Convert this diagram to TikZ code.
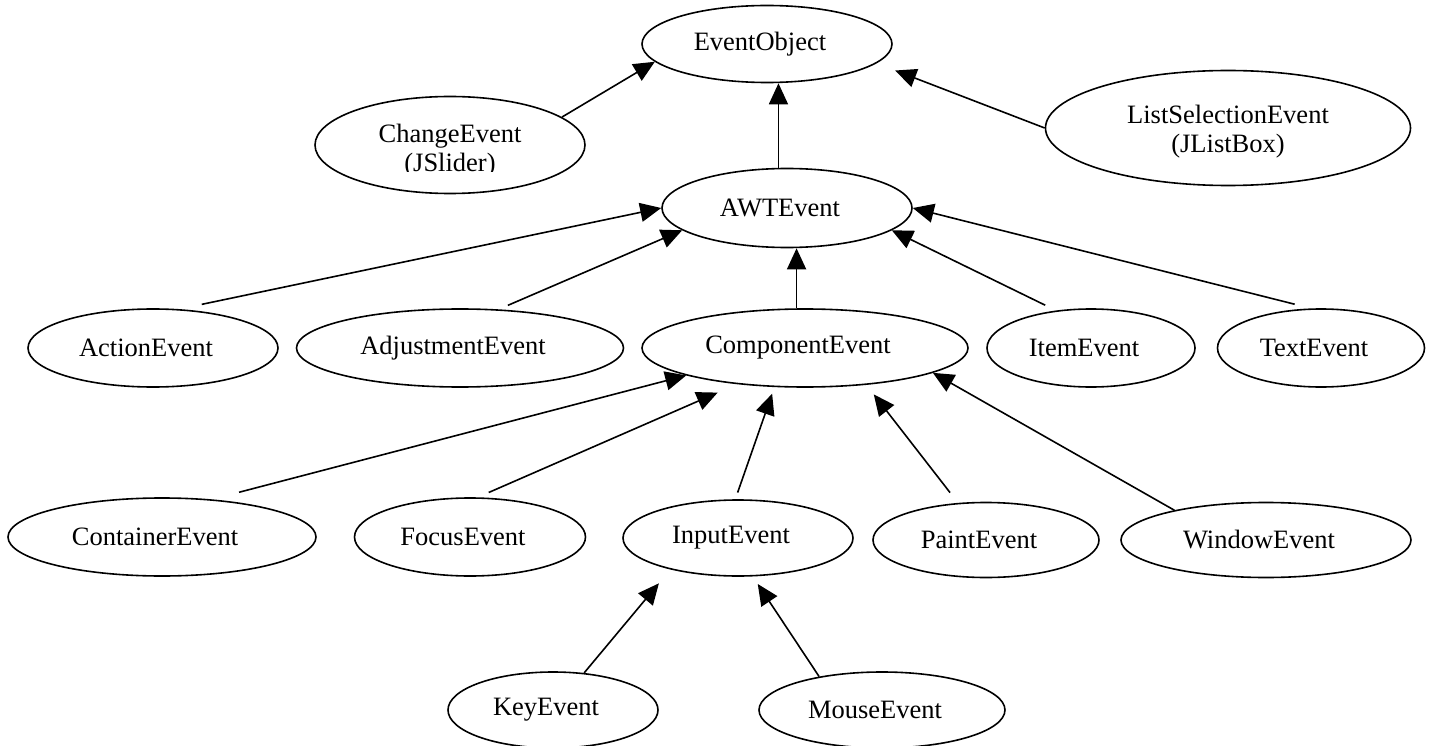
\documentclass[tikz,border=0pt]{standalone}
\usepackage{fontspec}
\setmainfont{Liberation Serif}
\usetikzlibrary{shapes.geometric,arrows.meta}

\begin{document}
\begin{tikzpicture}[x=1pt,y=-1pt,
    event/.style={draw,ellipse,line width=1.6pt,inner sep=0pt,align=center,
        font=\fontsize{26.5}{29}\selectfont},
    offset/.style={execute at end node={\rule{14pt}{0pt}}},
    inherit/.style={-{Triangle[length=21pt,width=19pt]},line width=1.6pt}]
    \useasboundingbox (0,0) rectangle (1435,746);

    % class ellipses: name/x/y/width/height/label
    \foreach \name/\x/\y/\w/\h/\txt in {
        evobj/767/44/250/77/EventObject,
        awt/787/208/250/79/AWTEvent,
        action/153/348/250/78/ActionEvent,
        adjust/460/348/327/78/AdjustmentEvent,
        comp/805/348/326/78/ComponentEvent,
        item/1091/348/208/78/ItemEvent,
        textev/1321/348/207/78/TextEvent,
        container/162/537/308/78/ContainerEvent,
        focus/470/537/231/78/FocusEvent,
        input/738/538/230/76/InputEvent,
        paint/986/540/226/75/PaintEvent,
        window/1266/540/290/75/WindowEvent,
        key/553/710/210/76/KeyEvent,
        mouse/882/710/246/76/MouseEvent}
    {
        \node[event,offset,minimum width=\w pt,minimum height=\h pt] (\name) at (\x,\y) {\txt};
    }
    \node[event,minimum width=270pt,minimum height=97pt] (change) at (450,145)
        {\rule{0pt}{30pt}ChangeEvent\\(JSlider)};
    \node[event,minimum width=365pt,minimum height=115pt] (listsel) at (1228,128)
        {\rule{0pt}{25pt}ListSelectionEvent\\(JListBox)};
    % cut-off second line of ChangeEvent
    \fill[white] (398,172.5) rectangle (502,181);

    % inheritance arrows: from/anchor/to/anchor/gap at start/gap at end
    \foreach \from/\fa/\to/\ta/\sa/\sb in {
        change/14/evobj/189/0/0,
        listsel/180/evobj/350/0/20,
        action/56/awt/180/23/0,
        adjust/45/awt/192/10/0,
        item/133/awt/348/12/0,
        textev/104/awt/0/17/0,
        container/37/comp/193/28/0,
        focus/79/comp/208/12/21,
        input/94/comp/232/7/7,
        paint/127/comp/329/13/12,
        window/162/comp/349/0/0,
        key/50/input/205/0/18,
        mouse/152/input/291/0/9}
    {
        \draw[inherit,shorten <=\sa pt,shorten >=\sb pt] (\from.\fa) -- (\to.\ta);
    }
    \draw[inherit] (awt.102) -- (awt.102 |- evobj.south);
    \draw[inherit] (comp.102) -- (comp.102 |- awt.south);
\end{tikzpicture}
\end{document}
